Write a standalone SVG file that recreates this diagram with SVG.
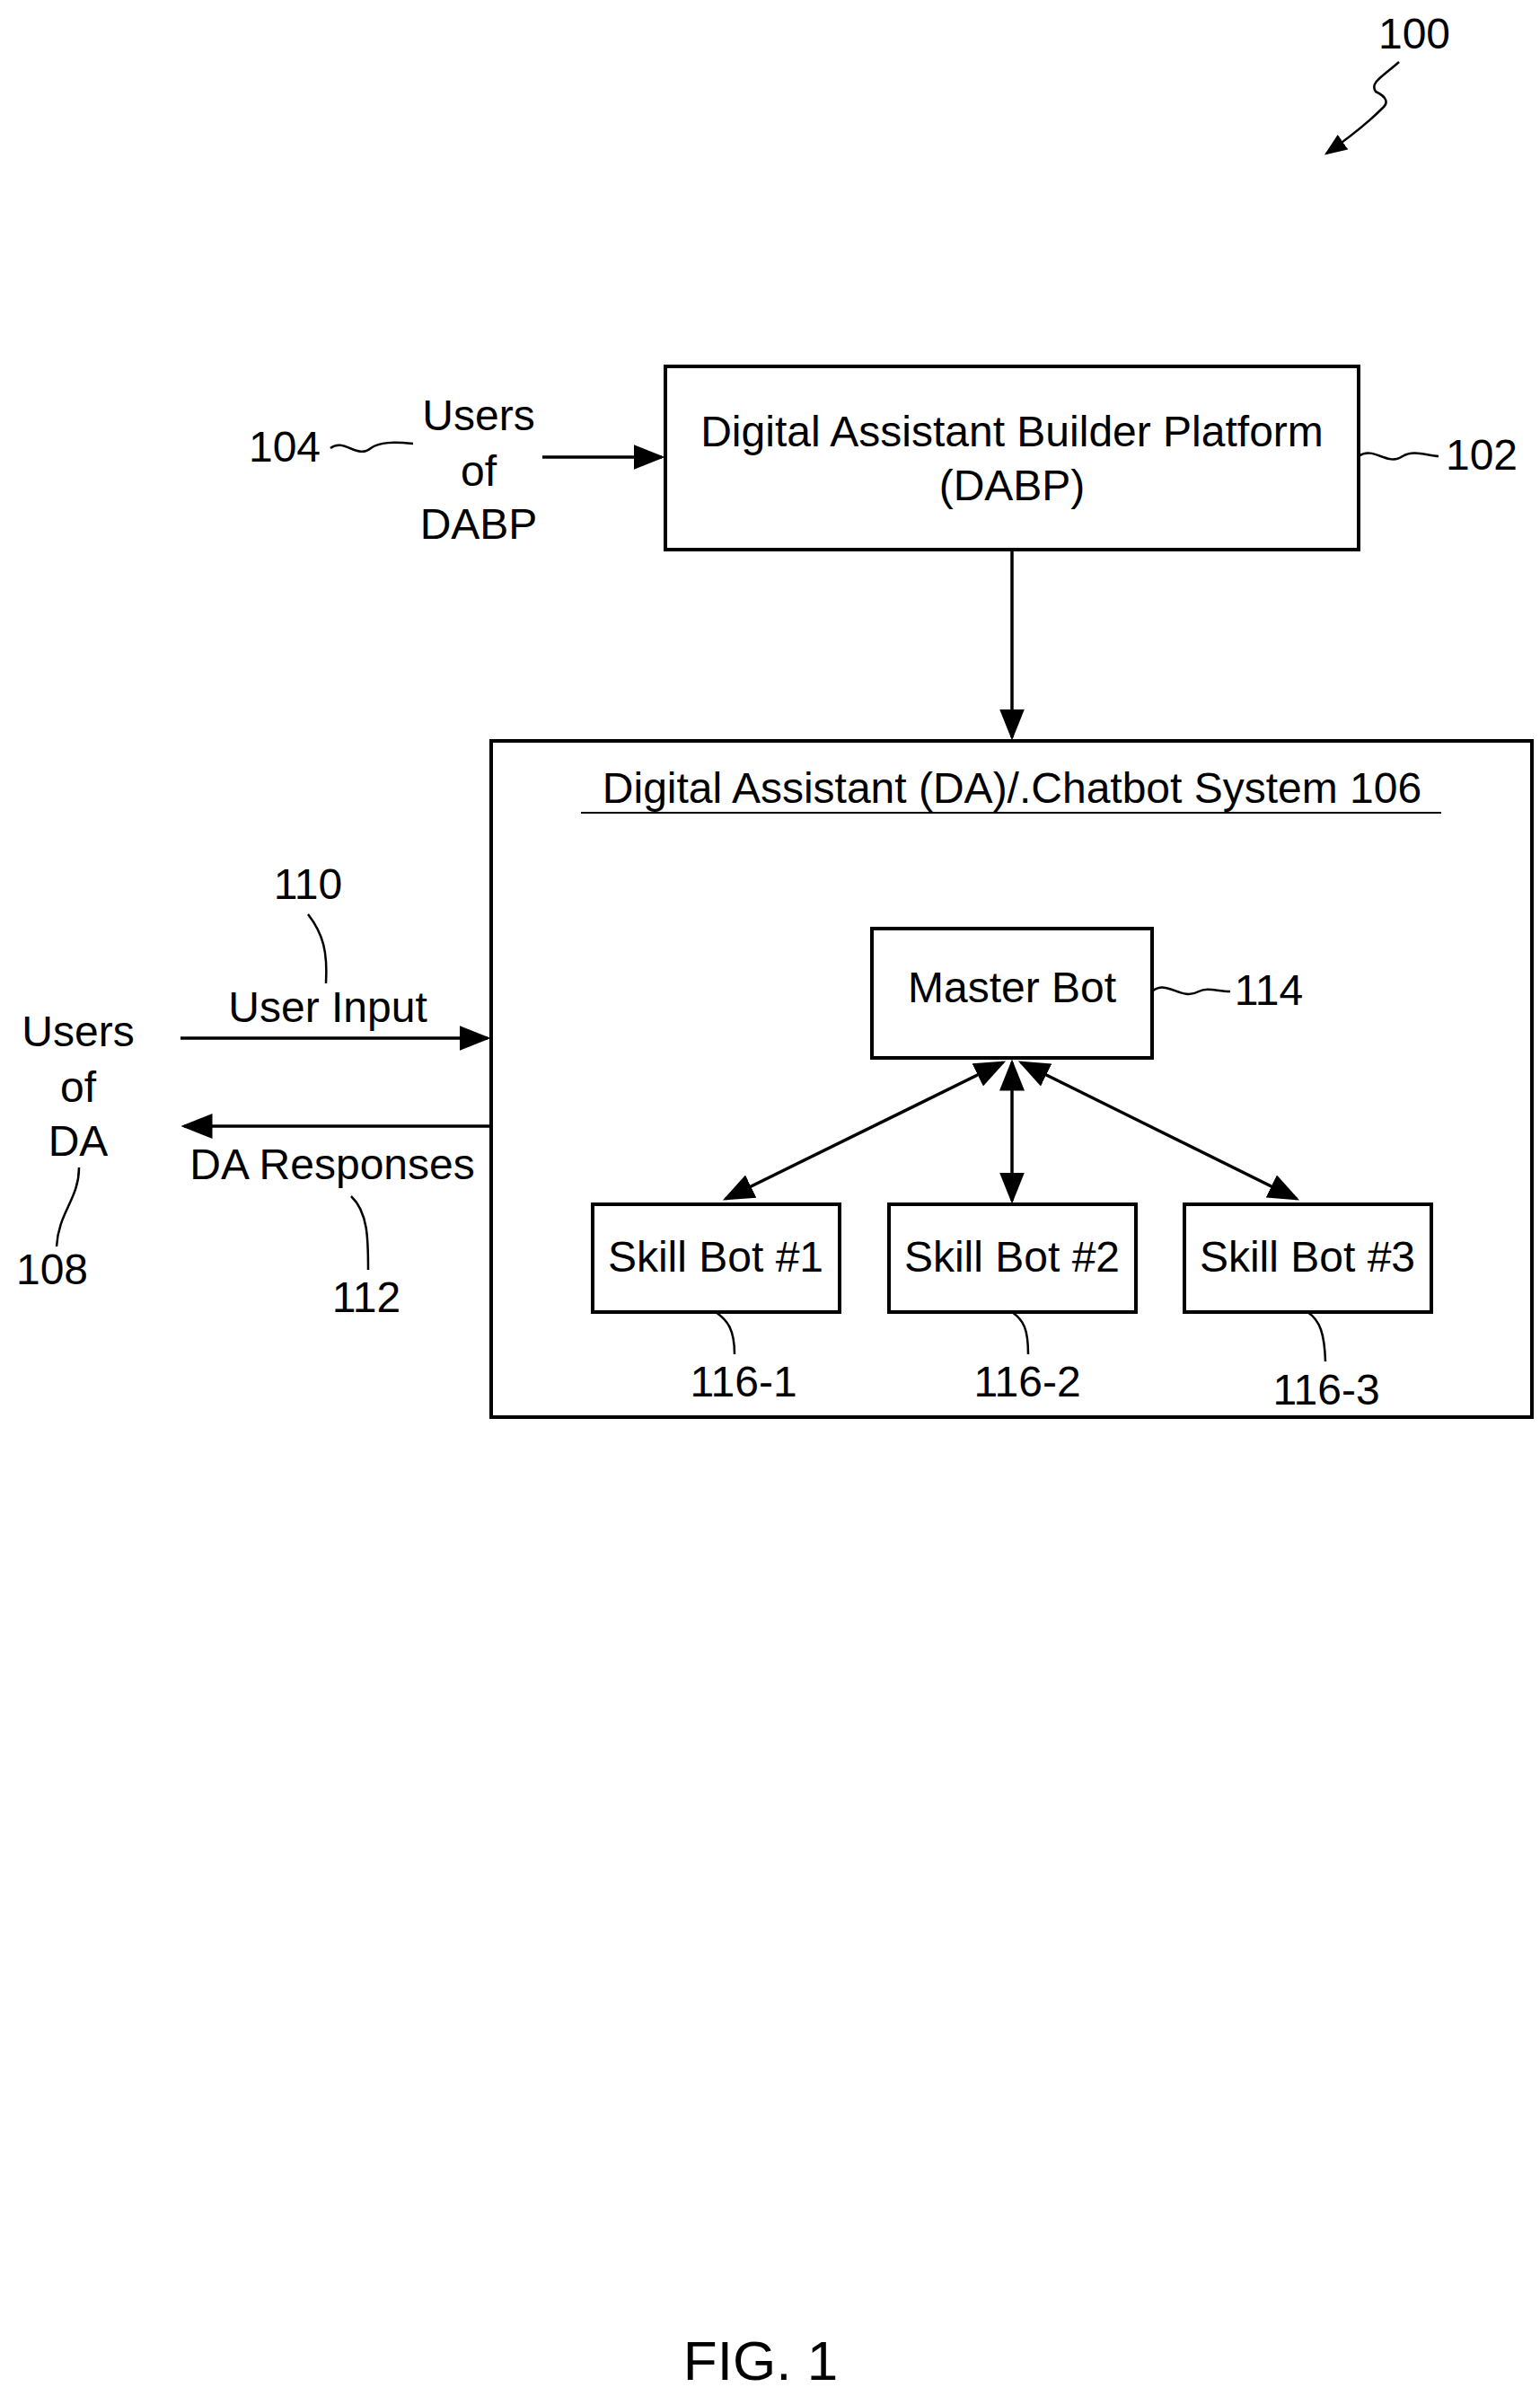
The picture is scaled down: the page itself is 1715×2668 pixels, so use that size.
<svg xmlns="http://www.w3.org/2000/svg" width="1715" height="2668" viewBox="0 0 1715 2668">
<style>
text{font-family:"Liberation Sans",Arial,sans-serif;font-size:48px;fill:#000;text-anchor:middle;dominant-baseline:central}
.b{fill:#fff;stroke:#000;stroke-width:4}
.l{fill:none;stroke:#000;stroke-width:3.5}
.s{fill:none;stroke:#000;stroke-width:2.5}
</style>
<defs>
<marker id="a" markerWidth="10" markerHeight="8" refX="9" refY="4" orient="auto-start-reverse" markerUnits="strokeWidth"><path d="M0,0 L10,4 L0,8 Z" fill="#000"/></marker>
</defs>
<rect width="1715" height="2668" fill="#fff"/>
<g id="fig100">
<text x="1575" y="37">100</text>
<path class="s" d="M1558,69 C1540,85 1525,92 1532,102 C1545,108 1546,115 1540,120 C1520,140 1500,155 1477,171" marker-end="url(#a)"/>
</g>
<g id="dabp">
<rect class="b" x="741" y="408" width="772" height="204"/>
<text x="1127" y="480">Digital Assistant Builder Platform</text>
<text x="1127" y="540">(DABP)</text>
<path class="s" d="M1513,508 C1530,496 1545,520 1562,508 C1575,500 1590,508 1602,508"/>
<text x="1650" y="506">102</text>
</g>
<g id="users-dabp">
<text x="533" y="462">Users</text>
<text x="533" y="524">of</text>
<text x="533" y="583">DABP</text>
<path class="s" d="M368,499 C383,487 398,512 413,499 C423,492 438,492 460,494"/>
<text x="317" y="497">104</text>
</g>
<g id="da-system">
<rect class="b" x="547" y="825" width="1159" height="753"/>
<text x="1127" y="877">Digital Assistant (DA)/.Chatbot System 106</text>
<line x1="647" y1="905" x2="1605" y2="905" stroke="#000" stroke-width="2"/>
</g>
<g id="master">
<rect class="b" x="971" y="1034" width="312" height="144"/>
<text x="1127" y="1099">Master Bot</text>
<path class="s" d="M1283,1104 C1300,1090 1315,1115 1335,1104 C1345,1099 1355,1104 1370,1104"/>
<text x="1413" y="1102">114</text>
</g>
<g id="skill1">
<rect class="b" x="660" y="1341" width="275" height="120"/>
<text x="797" y="1399">Skill Bot #1</text>
<path class="s" d="M797,1461 C810,1470 818,1480 818,1508"/>
<text x="828" y="1538">116-1</text>
</g>
<g id="skill2">
<rect class="b" x="990" y="1341" width="275" height="120"/>
<text x="1127" y="1399">Skill Bot #2</text>
<path class="s" d="M1127,1461 C1140,1470 1145,1480 1145,1508"/>
<text x="1144" y="1538">116-2</text>
</g>
<g id="skill3">
<rect class="b" x="1319" y="1341" width="275" height="120"/>
<text x="1456" y="1399">Skill Bot #3</text>
<path class="s" d="M1456,1461 C1470,1470 1475,1485 1476,1516"/>
<text x="1477" y="1547">116-3</text>
</g>
<g id="users-da">
<text x="87" y="1148">Users</text>
<text x="87" y="1210">of</text>
<text x="87" y="1270">DA</text>
<path class="s" d="M88,1300 C88,1335 65,1350 63,1388"/>
<text x="58" y="1413">108</text>
</g>
<g id="labels">
<text x="343" y="984">110</text>
<path class="s" d="M343,1018 C360,1040 365,1060 363,1095"/>
<text x="365" y="1121">User Input</text>
<text x="370" y="1296">DA Responses</text>
<path class="s" d="M391,1332 C410,1350 410,1380 410,1414"/>
<text x="408" y="1444">112</text>
</g>
<g id="connectors">
<line class="l" x1="604" y1="509" x2="737" y2="509" marker-end="url(#a)"/>
<line class="l" x1="1127" y1="612" x2="1127" y2="821" marker-end="url(#a)"/>
<line class="l" x1="201" y1="1156" x2="543" y2="1156" marker-end="url(#a)"/>
<line class="l" x1="547" y1="1254" x2="205" y2="1254" marker-end="url(#a)"/>
<line class="l" x1="1117" y1="1183" x2="808" y2="1335" marker-start="url(#a)" marker-end="url(#a)"/>
<line class="l" x1="1127" y1="1183" x2="1127" y2="1337" marker-start="url(#a)" marker-end="url(#a)"/>
<line class="l" x1="1137" y1="1183" x2="1444" y2="1335" marker-start="url(#a)" marker-end="url(#a)"/>
</g>
<text x="847" y="2628" style="font-size:62px">FIG. 1</text>
</svg>
